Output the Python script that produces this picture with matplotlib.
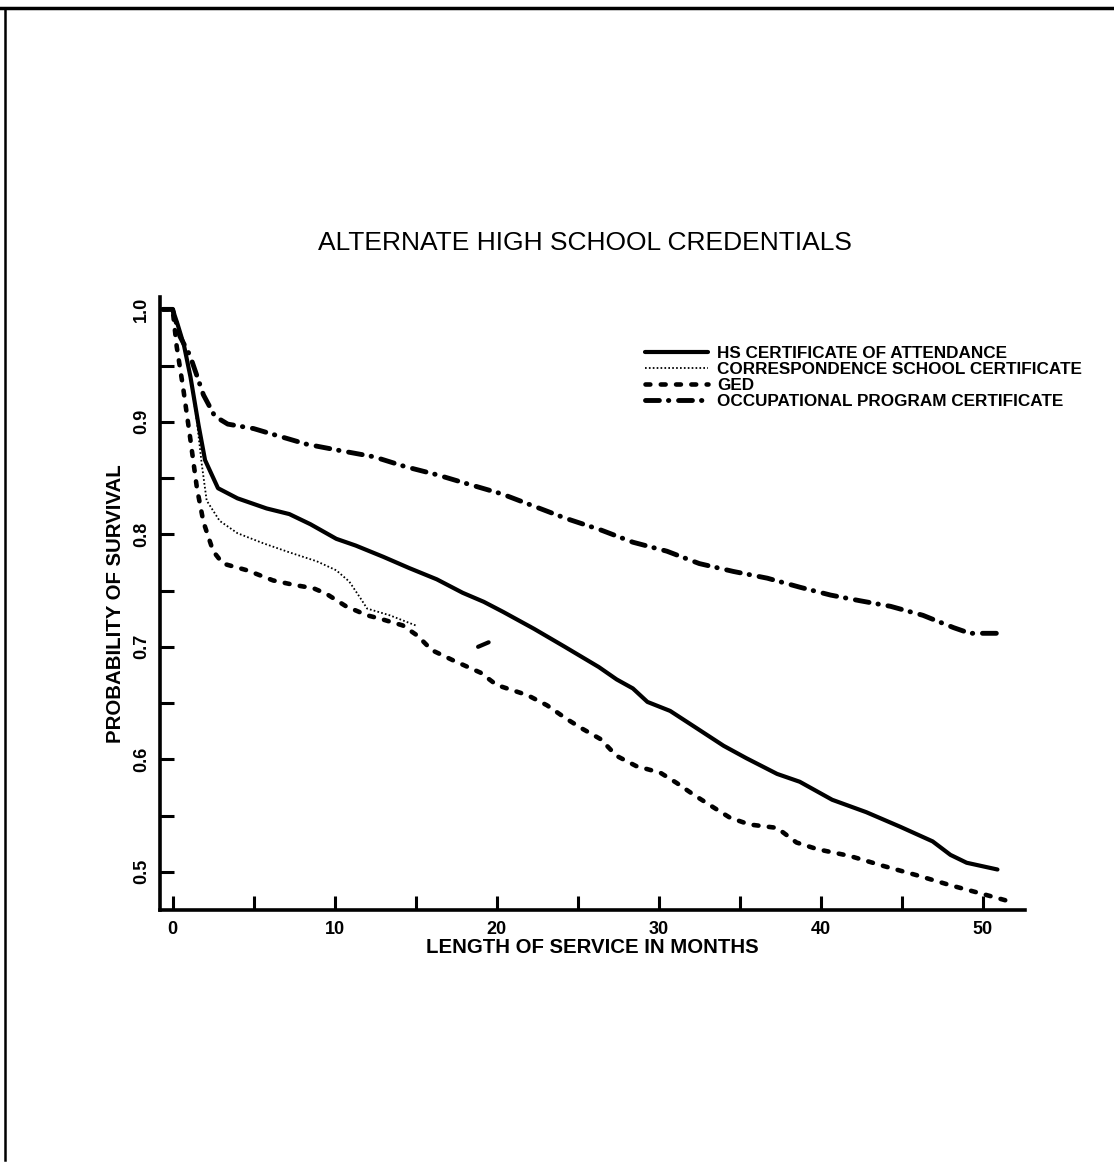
import matplotlib
matplotlib.use("Agg")
import matplotlib.pyplot as plt
from matplotlib.lines import Line2D
from matplotlib.ticker import MultipleLocator
from matplotlib import font_manager

# ---------------- data ----------------
title = "ALTERNATE HIGH SCHOOL CREDENTIALS"
xlabel = "LENGTH OF SERVICE IN MONTHS"
ylabel = "PROBABILITY OF SURVIVAL"
series_names = ["HS CERTIFICATE OF ATTENDANCE",
                "CORRESPONDENCE SCHOOL CERTIFICATE",
                "GED",
                "OCCUPATIONAL PROGRAM CERTIFICATE"]

hs_months = [-0.6, 0.0, 0.3, 0.7, 1.1, 1.6, 2.0, 2.8, 4.0, 5.8, 7.2, 8.5, 10.1, 11.3,
             13.0, 14.6, 16.3, 17.9, 19.2, 20.4, 22.3, 24.2, 26.3, 27.4, 28.4, 29.3,
             30.7, 32.3, 34.0, 35.4, 37.3, 38.7, 40.7, 42.8, 44.9, 46.9, 48.0, 49.0, 50.9]
hs_surv = [1.0, 1.0, 0.987, 0.968, 0.940, 0.897, 0.866, 0.841, 0.832, 0.823, 0.818, 0.809,
           0.796, 0.790, 0.780, 0.770, 0.760, 0.748, 0.740, 0.731, 0.716, 0.700, 0.682,
           0.671, 0.663, 0.651, 0.643, 0.628, 0.612, 0.601, 0.587, 0.580, 0.564, 0.553,
           0.540, 0.527, 0.515, 0.508, 0.502]

corr_months = [-0.6, 0.0, 0.3, 0.7, 1.1, 1.5, 1.8, 2.1, 2.9, 4.0, 5.6, 7.2, 8.9, 10.1,
               10.9, 11.6, 12.0, 13.4, 15.0]
corr_surv = [1.0, 1.0, 0.987, 0.968, 0.940, 0.900, 0.862, 0.830, 0.812, 0.801, 0.792,
             0.784, 0.776, 0.768, 0.758, 0.743, 0.734, 0.728, 0.719]
corr_frag_months = [18.85, 19.5]
corr_frag_surv = [0.700, 0.704]

ged_months = [-0.6, 0.0, 0.25, 0.65, 1.07, 1.5, 1.9, 2.5, 3.1, 4.6, 6.2, 7.5, 8.7, 9.5,
              10.7, 12.0, 12.8, 14.2, 15.1, 16.0, 17.3, 19.0, 20.0, 21.9, 23.1, 24.3,
              25.3, 26.4, 27.4, 28.6, 30.1, 31.1, 32.1, 33.4, 34.4, 35.6, 37.3, 38.5,
              39.8, 41.8, 43.9, 45.9, 48.0, 49.8, 51.8]
ged_surv = [1.0, 1.0, 0.967, 0.930, 0.887, 0.841, 0.811, 0.785, 0.774, 0.768, 0.759,
            0.755, 0.752, 0.747, 0.736, 0.728, 0.725, 0.719, 0.710, 0.697, 0.688, 0.677,
            0.666, 0.657, 0.648, 0.636, 0.627, 0.618, 0.603, 0.594, 0.588, 0.579, 0.569,
            0.557, 0.548, 0.542, 0.539, 0.526, 0.520, 0.514, 0.505, 0.497, 0.488, 0.481,
            0.473]

occ_months = [-0.6, 0.0, 0.45, 1.07, 1.9, 2.6, 3.4, 5.0, 6.4, 8.3, 10.5, 12.4, 14.4,
              16.3, 18.4, 20.3, 22.3, 24.3, 26.4, 28.4, 30.5, 32.5, 34.6, 36.7, 38.7,
              40.6, 42.4, 44.3, 46.3, 48.2, 49.2, 50.9]
occ_surv = [1.0, 1.0, 0.976, 0.959, 0.924, 0.905, 0.898, 0.894, 0.888, 0.880, 0.874,
            0.869, 0.860, 0.853, 0.844, 0.836, 0.825, 0.814, 0.804, 0.793, 0.785, 0.774,
            0.767, 0.761, 0.753, 0.746, 0.741, 0.736, 0.728, 0.717, 0.712, 0.712]

x_major = [0, 10, 20, 30, 40, 50]
y_major = [0.5, 0.6, 0.7, 0.8, 0.9, 1.0]
y_ticklabels = ["0.5", "0.6", "0.7", "0.8", "0.9", "1.0"]

# ---------------- fonts ----------------
available = {f.name for f in font_manager.fontManager.ttflist}
narrow = "Liberation Sans Narrow" if "Liberation Sans Narrow" in available else "Liberation Sans"
plt.rcParams["font.family"] = [narrow, "DejaVu Sans"]
plt.rcParams["lines.scale_dashes"] = False

W, H = 1114, 1171
fig = plt.figure(figsize=(W / 100, H / 100), dpi=100)
ax = fig.add_axes([160 / W, 1 - 910 / H, (1025 - 160) / W, (910 - 297) / H])

ax.plot(hs_months, hs_surv, color="black", lw=3.0, solid_joinstyle="round",
        solid_capstyle="round", label=series_names[0])
ax.plot(corr_months, corr_surv, color="black", lw=1.3, dashes=(1.2, 1.6),
        dash_capstyle="butt", label=series_names[1])
ax.plot(corr_frag_months, corr_frag_surv, color="black", lw=3.0,
        solid_capstyle="round")
ax.plot(ged_months, ged_surv, color="black", lw=3.3, dashes=(3.5, 7.5),
        dash_capstyle="round", label=series_names[2])
ax.plot(occ_months, occ_surv, color="black", lw=3.5, dashes=(10.0, 6.5, 0.3, 7.0),
        dash_capstyle="round", label=series_names[3])

ax.set_xlim(-0.78, 52.6)
ax.set_ylim(0.466, 1.011)

for s in ["top", "right"]:
    ax.spines[s].set_visible(False)
for s in ["left", "bottom"]:
    ax.spines[s].set_linewidth(2.6)

ax.set_xticks(x_major)
ax.xaxis.set_minor_locator(MultipleLocator(5))
ax.set_yticks(y_major)
ax.set_yticklabels(y_ticklabels, rotation=90, va="center")
ax.yaxis.set_minor_locator(MultipleLocator(0.05))
ax.tick_params(which="both", direction="in", length=10, width=2.2)
ax.tick_params(axis="x", which="major", pad=8, labelsize=13)
ax.tick_params(axis="y", which="major", pad=7, labelsize=13)
for lab in ax.get_xticklabels() + ax.get_yticklabels():
    lab.set_fontweight("bold")

ax.set_xlabel(xlabel, fontsize=14.7, fontweight="bold", labelpad=0)
ax.set_ylabel(ylabel, fontsize=14.7, fontweight="bold", labelpad=6)

fig.text(585 / W, 1 - 243 / H, title, fontsize=19, ha="center", va="center")

leg = ax.legend(loc="upper left", bbox_to_anchor=(645 / W, 1 - 346 / H),
                bbox_transform=fig.transFigure, frameon=False,
                prop={"weight": "bold", "size": 12.3}, labelspacing=0.05,
                handlelength=3.7, handletextpad=0.5, borderpad=0, borderaxespad=0)

# page frame (top and left edges of the scanned sheet)
fig.add_artist(Line2D([0, 1], [1 - 8 / H, 1 - 8 / H], transform=fig.transFigure,
                      color="black", lw=2.5))
fig.add_artist(Line2D([5 / W, 5 / W], [1 - 8 / H, 1 - 1160 / H], transform=fig.transFigure,
                      color="black", lw=1.8))

fig.savefig("out.png", dpi=100, facecolor="white")
